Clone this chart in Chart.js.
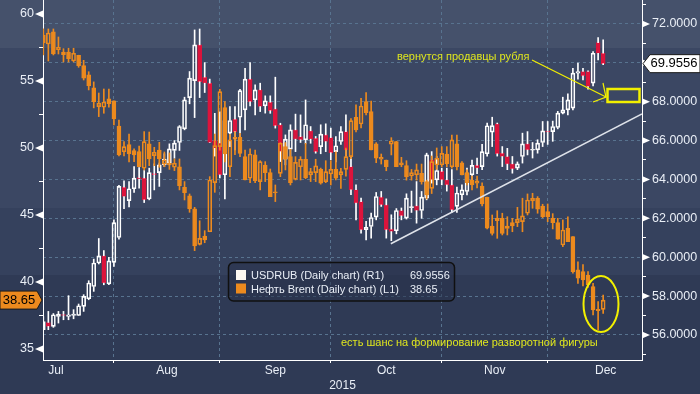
<!DOCTYPE html>
<html>
<head>
<meta charset="utf-8">
<title>USDRUB vs Brent</title>
<script src="https://cdn.jsdelivr.net/npm/chart.js@4.4.1/dist/chart.umd.min.js"></script>
<style>
  html, body { margin: 0; padding: 0; background: #2f3a55; overflow: hidden; }
  canvas { display: block; }
</style>
</head>
<body>
<canvas id="chart" width="700" height="394"></canvas>
<script>
// ------- Data -------
// daily candles, index 0 = mid July 2015 ... 111 = mid December 2015
const rubOpen = [56.27,56.64,56.44,56.95,57.05,56.95,57.00,57.00,57.47,57.86,
  58.49,59.70,60.07,58.63,59.73,61.01,63.60,62.91,63.52,64.09,
  64.07,63.00,64.30,64.35,64.75,64.84,65.49,65.90,66.60,68.21,
  69.08,70.92,69.26,68.95,66.00,65.88,64.24,66.38,67.10,67.20,
  67.58,69.16,68.09,68.61,67.78,67.97,67.63,66.81,65.04,65.56,
  66.55,66.20,66.04,66.50,66.12,65.69,66.29,66.15,65.43,65.95,
  66.46,64.66,63.47,62.86,61.41,61.58,62.06,63.09,62.69,61.44,
  61.36,62.40,62.01,62.55,62.64,62.40,63.04,65.01,63.98,64.41,
  63.98,63.72,62.61,63.21,63.38,64.24,64.72,64.66,65.32,66.43,
  66.86,65.35,65.18,64.80,64.58,65.18,65.83,65.50,65.52,65.90,
  66.48,66.46,66.67,67.41,67.58,67.67,69.47,69.55,69.55,68.95,
  71.04,70.49];
const rubHigh = [56.95,57.21,57.10,57.21,57.21,58.02,57.30,57.59,58.07,58.79,
  59.90,60.96,60.34,59.99,61.92,63.69,63.93,63.89,64.66,64.61,
  64.46,64.58,64.80,64.84,65.32,65.83,66.00,66.77,68.23,69.55,
  71.69,71.74,70.01,69.16,67.40,67.48,67.48,67.75,67.75,68.64,
  69.72,70.01,68.86,68.95,68.30,68.30,69.26,66.89,66.29,66.81,
  67.36,67.32,68.09,66.72,66.21,66.81,66.86,66.64,66.20,66.72,
  67.32,65.18,63.72,63.04,61.84,62.27,63.33,63.38,63.00,62.18,
  62.50,62.53,63.26,63.40,63.89,63.38,65.35,65.43,65.18,64.58,
  64.58,64.50,63.60,63.72,64.58,65.00,65.10,65.80,66.90,67.20,
  66.90,65.69,65.60,65.18,64.90,66.38,66.46,65.90,66.04,66.98,
  66.98,67.00,67.50,68.23,68.40,69.72,69.98,69.72,69.58,70.58,
  71.30,71.18];
const rubLow = [56.27,56.27,56.39,56.61,56.78,56.78,56.83,57.00,57.21,57.81,
  58.24,59.65,58.58,58.58,59.52,60.93,62.49,62.58,63.33,63.55,
  62.81,62.95,63.46,63.64,64.66,64.75,65.09,65.49,66.55,67.89,
  67.18,68.21,68.47,65.90,65.20,64.08,63.00,65.69,65.52,66.04,
  66.55,67.78,67.32,67.49,67.41,67.40,66.64,64.92,64.75,65.18,
  65.43,65.90,65.83,65.86,65.35,65.32,65.43,65.01,64.90,65.80,
  65.18,63.21,61.92,61.24,60.89,60.98,61.92,62.61,60.98,60.85,
  61.20,61.92,61.96,62.30,61.75,62.00,62.95,63.81,63.72,63.72,
  63.40,62.30,62.30,62.95,63.20,63.90,64.30,64.50,65.20,65.69,
  65.20,64.66,64.50,64.32,64.50,64.84,65.26,65.10,65.35,65.69,
  65.80,65.96,66.60,67.37,67.32,67.58,69.16,69.12,68.64,68.81,
  70.15,69.90];
const rubClose = [56.69,56.44,57.04,57.07,57.00,57.04,57.07,57.50,57.98,58.67,
  59.70,60.07,58.67,59.81,61.78,63.64,63.12,63.52,64.07,64.02,
  62.95,64.35,64.25,64.75,65.04,65.57,65.87,66.72,68.09,69.21,
  70.92,69.03,68.95,65.90,65.60,64.24,67.03,67.03,66.46,68.57,
  69.16,68.00,68.61,67.75,68.04,67.54,66.76,65.43,66.07,66.55,
  66.07,66.04,66.81,66.07,65.43,66.33,65.95,65.38,65.73,66.46,
  65.52,63.47,62.78,61.41,61.53,62.04,63.12,62.69,61.41,61.32,
  62.40,62.13,63.04,62.60,62.40,63.09,65.26,63.98,64.46,63.98,
  63.72,62.44,63.30,63.47,64.32,64.72,64.58,65.43,66.76,66.77,
  65.32,65.18,64.79,64.54,64.80,65.83,65.52,65.55,65.87,66.50,
  66.44,66.72,67.41,67.58,68.09,69.47,69.55,69.33,68.78,70.49,
  70.49,69.9556];

const brentOpen = [58.43,57.76,58.66,57.34,56.96,57.16,56.49,56.92,56.14,55.45,
  54.48,53.08,53.04,53.66,53.51,51.64,49.72,50.25,49.80,49.73,
  48.49,50.30,49.43,49.85,48.80,48.86,48.56,48.60,47.07,46.42,
  45.45,42.81,43.43,43.75,47.41,50.10,53.01,48.60,50.80,50.80,
  49.35,47.74,49.48,47.49,48.73,48.16,46.70,48.11,50.10,49.35,
  47.66,48.60,49.16,47.99,48.16,48.41,47.49,48.06,48.41,47.99,
  48.40,49.35,52.29,51.79,53.46,52.71,50.30,49.30,49.10,50.28,
  50.47,48.90,48.68,47.91,48.00,48.11,47.49,46.99,48.73,48.73,
  49.55,48.60,50.30,48.90,48.16,47.61,47.37,47.16,46.32,44.18,
  44.75,44.75,43.99,44.43,44.43,44.50,45.13,46.04,46.25,45.67,
  45.25,44.75,44.43,42.76,44.01,43.38,40.90,40.77,40.52,39.65,
  37.96,37.96];
const brentHigh = [58.88,58.88,58.88,58.28,57.41,57.44,57.44,56.92,56.54,55.69,
  54.93,54.10,54.40,54.40,53.51,52.09,50.47,51.04,49.93,50.15,
  51.22,51.19,50.05,50.42,49.70,49.63,49.18,49.18,47.49,46.57,
  45.57,44.57,43.83,47.86,51.04,54.38,53.46,51.02,51.20,51.10,
  49.84,49.93,49.84,49.05,48.98,48.43,47.24,50.40,50.40,49.90,
  49.35,49.35,50.35,48.48,49.16,48.50,49.05,49.05,49.72,48.48,
  50.00,52.20,53.21,53.70,54.13,53.50,50.40,49.55,49.10,50.77,
  50.50,49.30,49.05,48.40,48.80,48.80,47.60,49.40,50.00,50.10,
  50.10,50.97,50.97,48.98,48.36,47.91,47.91,47.39,46.34,45.00,
  45.32,45.13,44.87,44.75,45.57,46.25,46.57,46.62,46.37,45.80,
  45.82,45.10,44.75,44.63,44.87,43.38,41.51,41.30,40.77,39.90,
  38.53,39.03];
const brentLow = [56.94,56.49,56.94,57.01,56.42,56.42,56.42,56.02,55.07,54.33,
  52.99,52.34,52.59,53.04,51.72,49.40,49.40,48.96,48.98,48.60,
  48.36,48.68,48.68,48.56,48.60,48.40,48.31,46.87,46.12,45.20,
  42.34,42.76,42.93,43.75,46.69,49.84,48.96,47.86,49.50,49.35,
  47.61,47.41,47.41,46.87,47.49,46.37,46.00,47.86,48.36,47.24,
  47.61,47.61,47.71,47.49,47.49,47.30,47.41,47.24,47.61,46.99,
  47.90,49.20,51.20,51.50,52.46,49.85,48.90,48.80,48.30,49.48,
  48.60,48.60,47.60,47.60,47.60,47.30,46.20,46.60,48.40,48.60,
  48.60,48.49,48.36,47.99,47.24,46.87,47.01,45.67,43.96,43.50,
  43.26,43.51,43.51,43.75,44.13,43.75,45.00,45.50,45.13,44.80,
  44.50,43.96,43.19,42.64,43.01,40.66,39.90,39.70,39.60,37.54,
  36.42,37.66];
const brentClose = [57.84,58.58,57.01,57.51,57.16,56.66,57.07,56.14,55.20,54.65,
  53.46,53.34,53.43,53.31,52.16,49.48,50.10,49.55,49.48,48.60,
  50.47,49.18,49.68,49.18,49.10,48.73,48.86,47.19,46.67,45.45,
  42.69,43.26,43.13,47.61,50.17,54.20,49.55,50.60,50.65,49.60,
  47.61,49.55,47.56,48.98,48.16,46.37,46.66,50.35,49.16,47.41,
  48.93,49.16,47.78,48.23,48.66,47.37,48.23,48.41,47.74,48.23,
  49.35,52.04,51.34,53.13,52.63,49.85,49.23,49.16,48.60,50.52,
  48.60,48.73,47.86,48.16,48.36,47.49,46.50,48.98,49.23,49.60,
  48.81,50.60,48.60,47.99,47.41,47.24,47.54,45.82,44.01,43.63,
  44.57,43.63,44.18,44.18,44.68,44.93,46.12,46.25,45.43,44.87,
  44.87,44.43,43.19,43.88,43.01,40.77,40.28,40.15,39.78,37.91,
  37.86,38.65];

// trend line drawn on the USDRUB scale (x = candle index)
const trendX = [68.9, 118.7];
const trendY = [60.69, 67.37];

// axes
const monthLabels = ['Jul', 'Aug', 'Sep', 'Oct', 'Nov', 'Dec'];
const monthCenters = [2.5, 24.5, 46, 68, 89.5, 111.5];
const monthStarts = [14, 35, 57, 79, 100];
const leftTicks = [35, 37.5, 40, 42.5, 45, 47.5, 50, 52.5, 55, 57.5, 60];
const rightTicks = [55, 56, 57, 58, 59, 60, 61, 62, 63, 64, 65, 66, 67, 68, 69, 70, 71, 72, 73];

// ------- Styles -------
const FONT = '"Liberation Sans", Arial, sans-serif';
const TXT = '#e9eef6';
const GRID = '#58738f';
const ORANGE = '#ec8a1e';
const RED = '#dc143c';
const WHITE = '#ffffff';
const YELLOW = '#f2f000';
const NOTE = '#dfe61e';
const CLEAR = 'rgba(0,0,0,0)';

const idx = rubOpen.map((_, i) => i);

function candleSets(open, high, low, close, axis, upColor, downColor, wickColor, order) {
  const up = idx.map(i => close[i] >= open[i]);
  const top = idx.map(i => Math.max(open[i], close[i]));
  const bot = idx.map(i => Math.min(open[i], close[i]));
  const wick = {
    type: 'bar', yAxisID: axis, grouped: false, barThickness: 1,
    backgroundColor: wickColor, borderWidth: 0, order
  };
  return [
    { ...wick, label: axis + '-hi', data: idx.map(i => ({ x: i, y: [top[i], high[i]] })) },
    { ...wick, label: axis + '-lo', data: idx.map(i => ({ x: i, y: [low[i], bot[i]] })) },
    {
      type: 'bar', label: axis + '-body', yAxisID: axis, grouped: false, order,
      barThickness: 4, minBarLength: 1, borderWidth: 1, borderSkipped: false,
      data: idx.map(i => ({ x: i, y: [bot[i], top[i]] })),
      backgroundColor: idx.map(i => up[i] ? CLEAR : downColor),
      borderColor: idx.map(i => up[i] ? upColor : downColor)
    }
  ];
}

// ------- Plugins -------
const background = {
  id: 'background',
  beforeDraw(chart) {
    const { ctx, width, height } = chart;
    const bands = [[0, '#45516b'], [48, '#3b4763'], [208, '#35415d'], [275, '#2f3a55']];
    ctx.save();
    bands.forEach((b, k) => {
      const end = k + 1 < bands.length ? bands[k + 1][0] : height;
      ctx.fillStyle = b[1];
      ctx.fillRect(0, b[0], width, end - b[0]);
    });
    ctx.restore();
  }
};

function tag(ctx, pts, fill, text, tx, ty) {
  ctx.beginPath();
  pts.forEach((p, k) => k ? ctx.lineTo(p[0], p[1]) : ctx.moveTo(p[0], p[1]));
  ctx.closePath();
  ctx.fillStyle = fill;
  ctx.fill();
  ctx.strokeStyle = '#1b1b1b';
  ctx.lineWidth = 1;
  ctx.stroke();
  ctx.fillStyle = '#000';
  ctx.textAlign = 'center';
  ctx.textBaseline = 'middle';
  ctx.fillText(text, tx, ty);
}

const overlay = {
  id: 'overlay',
  afterDraw(chart) {
    const { ctx } = chart;
    const { yL, yR } = chart.scales;
    ctx.save();

    // axis markers
    ctx.fillStyle = WHITE;
    leftTicks.filter(v => v % 5 === 0).forEach(v => {
      const y = yL.getPixelForValue(v);
      ctx.beginPath();
      ctx.moveTo(yL.right - 8, y);
      ctx.lineTo(yL.right, y - 3.5);
      ctx.lineTo(yL.right, y + 3.5);
      ctx.fill();
    });
    rightTicks.filter(v => v % 2 === 0).forEach(v => {
      const y = yR.getPixelForValue(v);
      ctx.beginPath();
      ctx.moveTo(yR.left + 8, y);
      ctx.lineTo(yR.left, y - 3.5);
      ctx.lineTo(yR.left, y + 3.5);
      ctx.fill();
    });

    // notes
    ctx.font = '11px ' + FONT;
    ctx.fillStyle = NOTE;
    ctx.textAlign = 'left';
    ctx.textBaseline = 'middle';
    ctx.fillText('вернутся продавцы рубля', 397, 57);
    ctx.fillText('есть шанс на формирование разворотной фигуры', 341, 343);

    ctx.strokeStyle = YELLOW;
    ctx.lineWidth = 1.2;
    ctx.beginPath();
    ctx.moveTo(532, 60); ctx.lineTo(606, 97);
    ctx.moveTo(603, 83); ctx.lineTo(606, 97); ctx.lineTo(593, 102);
    ctx.stroke();

    ctx.lineWidth = 2.5;
    ctx.strokeRect(607.5, 89, 32, 13);

    ctx.lineWidth = 2;
    ctx.beginPath();
    ctx.ellipse(601, 304, 17.5, 28, 0, 0, Math.PI * 2);
    ctx.stroke();

    // legend box
    ctx.beginPath();
    ctx.roundRect(228.5, 262.5, 226, 38.5, 5);
    ctx.fillStyle = 'rgba(40,50,74,0.55)';
    ctx.fill();
    ctx.strokeStyle = '#101010';
    ctx.lineWidth = 1.5;
    ctx.stroke();
    ctx.fillStyle = '#fdf8f2';
    ctx.fillRect(236, 270, 10, 10);
    ctx.fillStyle = ORANGE;
    ctx.fillRect(236, 283.5, 10, 10);
    ctx.font = '11px ' + FONT;
    ctx.fillStyle = TXT;
    ctx.fillText('USDRUB (Daily chart) (R1)', 251, 276);
    ctx.fillText('Нефть Brent (Daily chart) (L1)', 251, 289.5);
    ctx.fillText(rubClose[rubClose.length - 1].toFixed(4), 410, 276);
    ctx.fillText(brentClose[brentClose.length - 1].toFixed(2), 410, 289.5);

    // last value tags
    ctx.font = '13px ' + FONT;
    const lastBrent = brentClose[brentClose.length - 1];
    const yb = yL.getPixelForValue(lastBrent);
    tag(ctx, [[0, yb - 9], [37, yb - 9], [42, yb], [37, yb + 9], [0, yb + 9]], ORANGE, lastBrent.toFixed(2), 19, yb);
    const lastRub = rubClose[rubClose.length - 1];
    const yr = yR.getPixelForValue(lastRub);
    tag(ctx, [[643, yr], [650, yr - 9], [700, yr - 9], [700, yr + 9], [650, yr + 9]], WHITE, lastRub.toFixed(4), 674, yr);

    ctx.restore();
  }
};

// ------- Chart -------
const datasets = [
  {
    type: 'line', label: 'trend', yAxisID: 'yR', order: 0,
    data: trendX.map((x, k) => ({ x, y: trendY[k] })),
    borderColor: '#dfe3ea', borderWidth: 1.5, pointRadius: 0
  },
  ...candleSets(brentOpen, brentHigh, brentLow, brentClose, 'yL', ORANGE, ORANGE, ORANGE, 1),
  ...candleSets(rubOpen, rubHigh, rubLow, rubClose, 'yR', WHITE, RED, WHITE, 2)
];

const tickFont = { family: FONT, size: 12.5 };

new Chart(document.getElementById('chart'), {
  type: 'bar',
  data: { datasets },
  options: {
    responsive: false,
    animation: false,
    devicePixelRatio: 1,
    layout: { padding: 0 },
    plugins: { legend: { display: false }, tooltip: { enabled: false } },
    scales: {
      x: {
        type: 'linear', position: 'bottom', min: -0.06, max: 118.7, offset: false,
        afterBuildTicks: s => {
          s.ticks = [...monthStarts, ...monthCenters].sort((a, b) => a - b).map(v => ({ value: v }));
        },
        afterFit: s => { s.height = 34; s.paddingLeft = 0; s.paddingRight = 0; },
        ticks: {
          autoSkip: false, maxRotation: 0, padding: 0, color: TXT,
          font: { family: FONT, size: 12 },
          callback: v => {
            const k = monthCenters.indexOf(v);
            return k >= 0 ? monthLabels[k] : '';
          }
        },
        grid: {
          offset: false,
          color: c => monthStarts.includes(c.tick && c.tick.value) ? GRID : CLEAR,
          tickColor: c => monthStarts.includes(c.tick && c.tick.value) ? WHITE : CLEAR,
          tickLength: 3, lineWidth: 1
        },
        border: { color: WHITE, width: 1, dash: [3, 3] },
        title: { display: true, text: '2015', color: TXT, font: { family: FONT, size: 12 }, padding: { top: 0, bottom: 1 } }
      },
      yL: {
        type: 'linear', position: 'left', min: 34.18, max: 61.04,
        afterBuildTicks: s => { s.ticks = leftTicks.map(v => ({ value: v })); },
        afterFit: s => { s.width = 43; s.paddingTop = 0; s.paddingBottom = 0; },
        ticks: { color: TXT, font: tickFont, padding: 5, callback: v => (v % 5 === 0 ? String(v) : '') },
        grid: {
          drawOnChartArea: false, tickLength: 4,
          tickColor: c => (c.tick && c.tick.value % 5 !== 0) ? WHITE : CLEAR
        },
        border: { color: WHITE, width: 1 }
      },
      yR: {
        type: 'linear', position: 'right', min: 54.71, max: 73.23,
        afterBuildTicks: s => { s.ticks = rightTicks.map(v => ({ value: v })); },
        afterFit: s => { s.width = 58; s.paddingTop = 0; s.paddingBottom = 0; },
        ticks: { color: TXT, font: tickFont, padding: 6, callback: v => (v % 2 === 0 ? v.toFixed(4) : '') },
        grid: {
          tickLength: 4,
          color: c => (c.tick && c.tick.value % 2 === 0) ? GRID : CLEAR,
          tickColor: c => (c.tick && c.tick.value % 2 !== 0) ? WHITE : CLEAR
        },
        border: { color: WHITE, width: 1, dash: [3, 3] }
      }
    }
  },
  plugins: [background, overlay]
});
</script>
</body>
</html>
